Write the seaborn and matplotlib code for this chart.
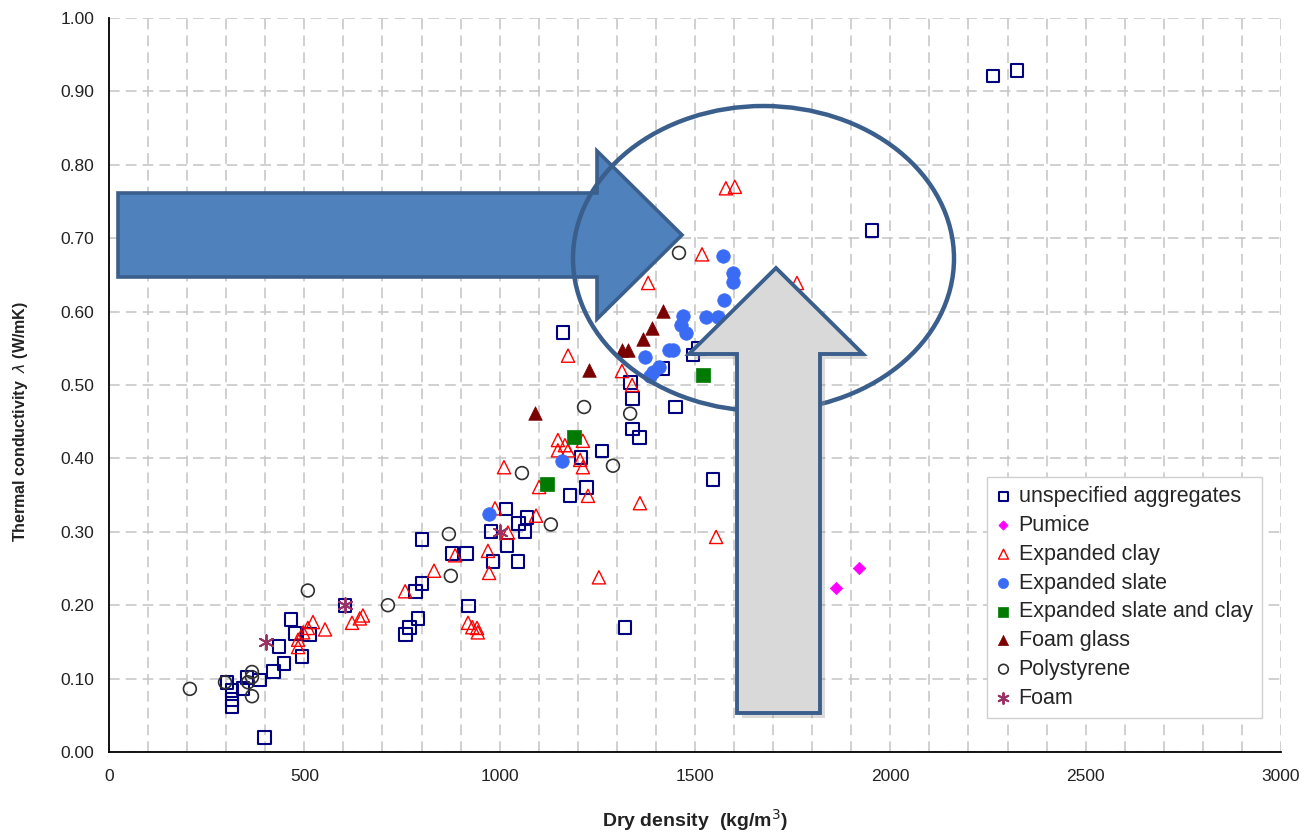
import matplotlib
matplotlib.use("Agg")
import matplotlib.pyplot as plt
from matplotlib.ticker import MultipleLocator, FormatStrFormatter
from matplotlib.patches import Polygon, Ellipse
import seaborn as sns

# data: dry density (kg/m3), thermal conductivity (W/mK)
agg_x = [302, 315, 315, 315, 343, 353, 386, 399, 422, 448, 435, 494, 476, 466, 514,
         604, 758, 770, 791, 801, 785, 801, 878, 916, 921, 978, 983, 1016, 1019, 1047,
         1049, 1065, 1070, 1162, 1180, 1208, 1223, 1262, 1321, 1334, 1341, 1339, 1357,
         1418, 1451, 1495, 1508, 1546, 1953, 2263, 2324]
agg_y = [0.095, 0.084, 0.071, 0.062, 0.087, 0.102, 0.098, 0.020, 0.110, 0.121, 0.144,
         0.130, 0.161, 0.181, 0.160, 0.200, 0.160, 0.170, 0.182, 0.230, 0.219, 0.290,
         0.270, 0.270, 0.199, 0.300, 0.259, 0.331, 0.281, 0.259, 0.311, 0.300, 0.320,
         0.571, 0.350, 0.401, 0.360, 0.410, 0.170, 0.503, 0.482, 0.440, 0.429, 0.522,
         0.470, 0.541, 0.550, 0.371, 0.710, 0.921, 0.929]

pumice_x = [1861, 1920]
pumice_y = [0.223, 0.251]

clay_x = [484, 484, 497, 509, 522, 553, 622, 642, 650, 758, 832, 886, 919, 930, 942,
          944, 970, 973, 988, 1011, 1021, 1093, 1101, 1149, 1149, 1167, 1175, 1175,
          1206, 1213, 1213, 1226, 1254, 1313, 1339, 1359, 1380, 1518, 1554, 1579, 1602,
          1761]
clay_y = [0.143, 0.153, 0.163, 0.169, 0.177, 0.167, 0.176, 0.182, 0.186, 0.219, 0.247,
          0.268, 0.176, 0.170, 0.169, 0.163, 0.274, 0.244, 0.332, 0.388, 0.299, 0.322,
          0.361, 0.425, 0.411, 0.418, 0.411, 0.540, 0.398, 0.424, 0.388, 0.349, 0.238,
          0.519, 0.500, 0.339, 0.639, 0.678, 0.293, 0.768, 0.770, 0.639]

slate_x = [973, 1159, 1372, 1385, 1393, 1408, 1433, 1444, 1464, 1469, 1477, 1528, 1559,
           1574, 1597, 1597, 1572]
slate_y = [0.324, 0.397, 0.538, 0.512, 0.518, 0.525, 0.548, 0.548, 0.582, 0.594, 0.571,
           0.593, 0.593, 0.616, 0.640, 0.652, 0.676]

slate_clay_x = [1121, 1190, 1520]
slate_clay_y = [0.365, 0.429, 0.514]

glass_x = [1090, 1229, 1313, 1329, 1367, 1390, 1418]
glass_y = [0.462, 0.520, 0.548, 0.548, 0.563, 0.578, 0.601]

poly_x = [207, 297, 356, 366, 366, 366, 509, 714, 870, 875, 1057, 1131, 1216, 1290,
          1334, 1459]
poly_y = [0.086, 0.095, 0.095, 0.102, 0.109, 0.076, 0.220, 0.200, 0.297, 0.240, 0.380,
          0.310, 0.470, 0.390, 0.461, 0.680]

foam_x = [402, 604, 1001]
foam_y = [0.150, 0.200, 0.300]

sns.set_style("white")
plt.rcParams["font.family"] = ["Liberation Sans", "DejaVu Sans"]

W, H = 1312, 832
fig = plt.figure(figsize=(W / 100, H / 100), dpi=100)
ax = fig.add_axes([109 / W, 1 - 752 / H, (1281 - 109) / W, (752 - 18) / H])

# (label, x, y, marker, color, filled, size, linewidth)
series = [
    ("unspecified aggregates", agg_x, agg_y, "s", "#000080", False, 85, 1.5),
    ("Pumice", pumice_x, pumice_y, "D", "#FF00FF", True, 40, 0.5),
    ("Expanded clay", clay_x, clay_y, "^", "#FF0000", False, 90, 1.0),
    ("Expanded slate", slate_x, slate_y, "o", "#3A6BF5", True, 95, 0.5),
    ("Expanded slate and clay", slate_clay_x, slate_clay_y, "s", "#007A00", True, 95, 0.5),
    ("Foam glass", glass_x, glass_y, "^", "#7A0000", True, 95, 0.5),
    ("Polystyrene", poly_x, poly_y, "o", "#303030", False, 85, 1.2),
    ("Foam", foam_x, foam_y, (6, 2, 0), "#993366", True, 110, 1.4),
]

for label, xs, ys, mk, col, filled, size, lw in series:
    sns.scatterplot(x=xs, y=ys, ax=ax, marker=mk, s=size, linewidth=lw,
                    facecolor=col if filled else "none", edgecolor=col,
                    label=label, zorder=3, clip_on=False)

ax.set_xlim(0, 3000)
ax.set_ylim(0, 1.0)
ax.xaxis.set_major_locator(MultipleLocator(500))
ax.xaxis.set_minor_locator(MultipleLocator(100))
ax.yaxis.set_major_locator(MultipleLocator(0.1))
ax.yaxis.set_minor_locator(MultipleLocator(0.02))
ax.yaxis.set_major_formatter(FormatStrFormatter("%.2f"))

dash = (0, (7, 4))
ax.grid(which="both", axis="x", color="#c4c4c4", linestyle=dash, linewidth=1.1)
ax.grid(which="major", axis="y", color="#c4c4c4", linestyle=dash, linewidth=1.1)
ax.set_axisbelow(True)

for side in ["top", "right"]:
    ax.spines[side].set_visible(False)
for side in ["left", "bottom"]:
    ax.spines[side].set_color("black")
    ax.spines[side].set_linewidth(1.3)

ax.tick_params(which="major", direction="inout", length=9, width=1.2, labelsize=12.5,
               colors="black", labelcolor="#222222")
ax.tick_params(which="minor", direction="in", length=5, width=1.0, colors="black")
ax.tick_params(axis="x", pad=8)
ax.tick_params(axis="y", pad=6)

ax.set_xlabel("Dry density  (kg/m$^3$)", fontsize=14, fontweight="bold",
              color="#222222")
ax.xaxis.set_label_coords(0.5, -0.075)
ax.set_ylabel("Thermal conductivity  $\\lambda$ (W/mK)", fontsize=11.5,
              fontweight="bold", color="#222222")
ax.yaxis.set_label_coords(-0.067, 0.45)

leg = ax.legend(loc="lower right", bbox_to_anchor=(0.984, 0.046), borderaxespad=0,
                fontsize=15.5, frameon=True, fancybox=False, markerscale=0.75,
                handlelength=0.6, handletextpad=0.4, labelspacing=0.36,
                borderpad=0.45, edgecolor="#d0d0d0", framealpha=1)
leg.get_frame().set_linewidth(1.0)


# overlay annotation shapes (figure pixel coordinates)
def fp(pts):
    return [(x / W, 1 - y / H) for x, y in pts]


edge = "#3B5F8C"
blue_arrow = [(118, 193), (597, 193), (597, 151), (682, 235), (597, 319), (597, 277),
              (118, 277)]
fig.add_artist(Polygon(fp(blue_arrow), closed=True, transform=fig.transFigure,
                       facecolor="#4F81BD", edgecolor=edge, linewidth=2.6, zorder=10))

fig.add_artist(Ellipse((763.5 / W, 1 - 258.5 / H), 381 / W, 305 / H,
                       transform=fig.transFigure, facecolor="none", edgecolor=edge,
                       linewidth=3.2, zorder=11))

gray_arrow = [(776, 268), (863, 354), (820, 354), (820, 713), (737, 713), (737, 354),
              (689, 354)]
shadow = [(x + 5, y + 5) for x, y in gray_arrow]
fig.add_artist(Polygon(fp(shadow), closed=True, transform=fig.transFigure,
                       facecolor="#999999", edgecolor="none", alpha=0.35, zorder=11))
fig.add_artist(Polygon(fp(gray_arrow), closed=True, transform=fig.transFigure,
                       facecolor="#D9D9D9", edgecolor=edge, linewidth=2.8, zorder=12))

plt.savefig("out.png", dpi=100)
